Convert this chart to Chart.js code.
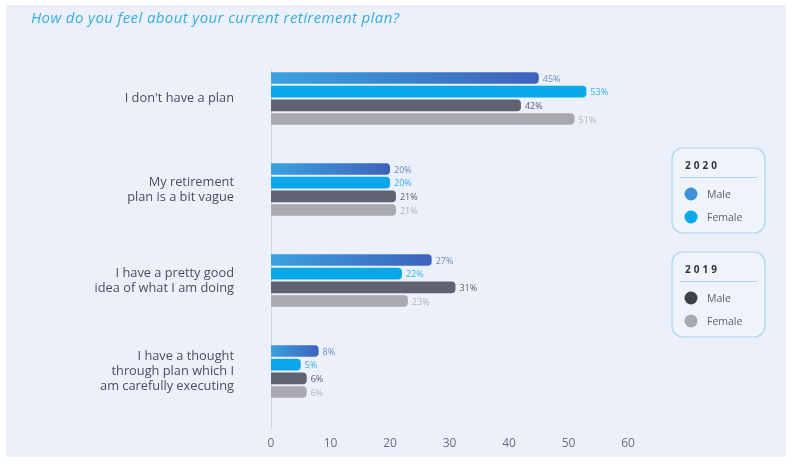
<!DOCTYPE html>
<html>
<head>
<meta charset="utf-8">
<script src="https://cdn.jsdelivr.net/npm/chart.js@4.4.1/dist/chart.umd.min.js"></script>
<style>
  html, body { margin: 0; padding: 0; background: #ffffff; }
  canvas { display: block; }
</style>
</head>
<body>
<canvas id="planChart" width="792" height="464"></canvas>
<script>
const categories = [
  ["I don't have a plan"],
  ["My retirement", "plan is a bit vague"],
  ["I have a pretty good", "idea of what I am doing"],
  ["I have a thought", "through plan which I", "am carefully executing"]
];
const male2020 = [45, 20, 27, 8];
const female2020 = [53, 20, 22, 5];
const male2019 = [42, 21, 31, 6];
const female2019 = [51, 21, 23, 6];
const xTicks = [0, 10, 20, 30, 40, 50, 60];

const FONT = "'Open Sans', 'DejaVu Sans', sans-serif";

// blue gradient along each 2020 male bar
function maleBlue(context) {
  const chart = context.chart;
  const x = chart.scales.x;
  if (!x || !context.parsed) return '#3b8fd4';
  const x0 = x.getPixelForValue(0);
  const x1 = x.getPixelForValue(context.parsed.x);
  if (!isFinite(x0) || !isFinite(x1) || x1 <= x0) return '#3b8fd4';
  const g = chart.ctx.createLinearGradient(x0, 0, x1, 0);
  g.addColorStop(0, '#3aa2de');
  g.addColorStop(1, '#3e62bb');
  return g;
}

const backgroundPanel = {
  id: 'backgroundPanel',
  beforeDraw(chart) {
    const ctx = chart.ctx;
    ctx.save();
    ctx.fillStyle = '#ebf0fb';
    ctx.fillRect(6, 5, 780, 452);
    ctx.font = 'italic 15px ' + FONT;
    ctx.letterSpacing = '0.4px';
    ctx.fillStyle = '#3aaedb';
    ctx.textBaseline = 'alphabetic';
    ctx.fillText('How do you feel about your current retirement plan?', 31, 23);
    ctx.letterSpacing = '0px';
    // vertical axis line
    const a = chart.chartArea;
    const x0 = chart.scales.x.getPixelForValue(0);
    ctx.strokeStyle = '#d3d7e2';
    ctx.lineWidth = 1;
    ctx.beginPath();
    ctx.moveTo(x0 + 0.5, a.top + 16);
    ctx.lineTo(x0 + 0.5, a.bottom + 12);
    ctx.stroke();
    ctx.restore();
  }
};

const valueLabels = {
  id: 'valueLabels',
  afterDatasetsDraw(chart) {
    const ctx = chart.ctx;
    ctx.save();
    ctx.font = '9px ' + FONT;
    ctx.textBaseline = 'middle';
    chart.data.datasets.forEach((ds, i) => {
      const meta = chart.getDatasetMeta(i);
      meta.data.forEach((bar, j) => {
        ctx.fillStyle = ds.labelColor;
        ctx.fillText(ds.data[j] + '%', bar.x + 4, bar.y + 1);
      });
    });
    ctx.restore();
  }
};

const yearLegend = {
  id: 'yearLegend',
  afterDraw(chart) {
    const ctx = chart.ctx;
    const ds = chart.data.datasets;
    const groups = [
      { year: '2020', top: 148, items: [ds[0], ds[1]] },
      { year: '2019', top: 252, items: [ds[2], ds[3]] }
    ];
    ctx.save();
    groups.forEach(g => {
      const left = 672, w = 93, h = 85;
      ctx.beginPath();
      ctx.roundRect(left, g.top, w, h, 11);
      ctx.fillStyle = '#eef3fc';
      ctx.fill();
      ctx.strokeStyle = '#a8d7ea';
      ctx.lineWidth = 1.2;
      ctx.stroke();
      ctx.font = 'bold 10px ' + FONT;
      ctx.letterSpacing = '3px';
      ctx.fillStyle = '#2f3340';
      ctx.textBaseline = 'middle';
      ctx.fillText(g.year, left + 13, g.top + 18);
      ctx.letterSpacing = '0px';
      ctx.beginPath();
      ctx.moveTo(left + 8, g.top + 29.5);
      ctx.lineTo(left + w - 8, g.top + 29.5);
      ctx.strokeStyle = '#a8d7ea';
      ctx.lineWidth = 1;
      ctx.stroke();
      g.items.forEach((item, k) => {
        const cy = g.top + 46 + k * 23;
        ctx.beginPath();
        ctx.arc(left + 19, cy, 6.5, 0, Math.PI * 2);
        ctx.fillStyle = item.legendColor;
        ctx.fill();
        ctx.font = '10.5px ' + FONT;
        ctx.fillStyle = '#5d6272';
        ctx.fillText(item.label.split(' ')[0], left + 35, cy + 1);
      });
    });
    ctx.restore();
  }
};

const chart = new Chart(document.getElementById('planChart').getContext('2d'), {
  type: 'bar',
  data: {
    labels: categories,
    datasets: [
      { label: 'Male 2020', data: male2020, backgroundColor: maleBlue,
        legendColor: '#3f92d6', labelColor: '#6f8cbd' },
      { label: 'Female 2020', data: female2020, backgroundColor: '#0aa8e8',
        legendColor: '#0aa8e8', labelColor: '#35b3e4' },
      { label: 'Male 2019', data: male2019, backgroundColor: '#5f6270',
        legendColor: '#3c4048', labelColor: '#5c606d' },
      { label: 'Female 2019', data: female2019, backgroundColor: '#a9a9af',
        legendColor: '#a8a8ad', labelColor: '#b2b3b9' }
    ]
  },
  options: {
    indexAxis: 'y',
    responsive: false,
    animation: false,
    maintainAspectRatio: false,
    layout: { padding: { top: 53, right: 164, bottom: 0, left: 0 } },
    datasets: {
      bar: {
        categoryPercentage: 0.6,
        barPercentage: 0.85,
        borderRadius: { topRight: 4, bottomRight: 4, topLeft: 0, bottomLeft: 0 },
        borderSkipped: false
      }
    },
    scales: {
      x: {
        min: 0,
        max: 60,
        afterBuildTicks(scale) {
          scale.ticks = xTicks.map(v => ({ value: v }));
        },
        afterFit(scale) { scale.height = 47; },
        grid: { display: false, drawTicks: false },
        border: { display: false },
        ticks: { color: '#6b7080', padding: 19, font: { family: FONT, size: 12 } }
      },
      y: {
        afterFit(scale) {
          scale.width = 271;
          scale.paddingTop = 0;
          scale.paddingBottom = 0;
        },
        grid: { display: false, drawTicks: false },
        border: { display: false },
        ticks: {
          color: '#4a4f5c',
          padding: 37,
          font: { family: FONT, size: 12.8, lineHeight: 1.17 }
        }
      }
    },
    plugins: {
      legend: { display: false },
      title: { display: false },
      tooltip: { enabled: false }
    }
  },
  plugins: [backgroundPanel, valueLabels, yearLegend]
});
</script>
</body>
</html>
